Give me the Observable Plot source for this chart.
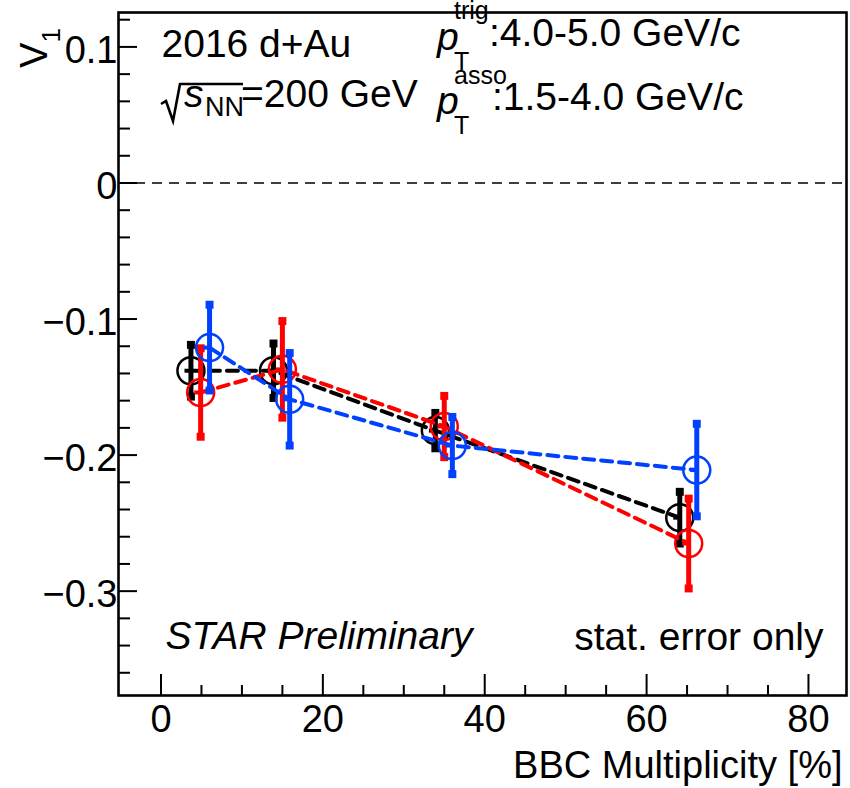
<!DOCTYPE html>
<html>
<head>
<meta charset="utf-8">
<script src="https://cdn.jsdelivr.net/npm/d3@7"></script>
<script src="https://cdn.jsdelivr.net/npm/@observablehq/plot@0.6"></script>
<style>
  html, body { margin: 0; padding: 0; background: white; }
  #chart { width: 850px; height: 788px; }
</style>
</head>
<body>
<div id="chart"></div>
<script>
// ---- data ----
const seriesNames = ["black", "red", "blue"];
const seriesColors = ["#000000", "#ff0000", "#0040ff"];

const xBlack = [3.7, 13.9, 33.9, 64.1];
const yBlack = [-0.138, -0.138, -0.182, -0.246];
const eBlack = [0.019, 0.020, 0.013, 0.019];

const xRed = [4.9, 15.0, 35.0, 65.2];
const yRed = [-0.154, -0.137, -0.179, -0.265];
const eRed = [0.0325, 0.0355, 0.0225, 0.033];

const xBlue = [6.0, 15.9, 36.0, 66.2];
const yBlue = [-0.121, -0.159, -0.193, -0.211];
const eBlue = [0.0315, 0.034, 0.021, 0.034];

const xMajorTicks = [0, 20, 40, 60, 80];
const xMinorTicks = [5, 10, 15, 25, 30, 35, 45, 50, 55, 65, 70, 75];
const yMajorTicks = [-0.3, -0.2, -0.1, 0, 0.1];
const yMinorTicks = [-0.36, -0.34, -0.32, -0.28, -0.26, -0.24, -0.22, -0.18, -0.16, -0.14, -0.12,
                     -0.08, -0.06, -0.04, -0.02, 0.02, 0.04, 0.06, 0.08, 0.12];

const xLabel = "BBC Multiplicity [%]";

// ---- build table ----
function mk(name, xs, ys, es) {
  return xs.map((x, i) => ({series: name, x, y: ys[i], err: es[i]}));
}
const groups = [
  mk("black", xBlack, yBlack, eBlack),
  mk("red", xRed, yRed, eRed),
  mk("blue", xBlue, yBlue, eBlue)
];

const W = 850, H = 788;
const mL = 118, mR = 4, mT = 12, mB = 93;
const fw = W - mL - mR, fh = H - mT - mB;

const seriesMarks = [];
groups.forEach((data, gi) => {
  const c = seriesColors[gi];
  seriesMarks.push(
    Plot.line(data, {x: "x", y: "y", stroke: c, strokeWidth: 4, strokeDasharray: "11,7"}),
    Plot.ruleX(data, {x: "x", y1: d => d.y - d.err, y2: d => d.y + d.err, stroke: c, strokeWidth: 5}),
    Plot.dot(data, {x: "x", y: d => d.y + d.err, symbol: "square", r: 4.5, fill: c, stroke: null}),
    Plot.dot(data, {x: "x", y: d => d.y - d.err, symbol: "square", r: 4.5, fill: c, stroke: null}),
    Plot.link(data, {x1: d => d.x - 0.8, x2: "x", y1: "y", y2: "y", stroke: c, strokeWidth: 4}),
    Plot.dot(data, {x: "x", y: "y", r: 13.5, stroke: c, strokeWidth: 2.5, fill: "none"})
  );
});

const fmtY = d => d === 0 ? "0" : (d < 0 ? "\u2212" : "") + Math.abs(d).toFixed(1);

const chart = Plot.plot({
  width: W,
  height: H,
  marginLeft: mL,
  marginRight: mR,
  marginTop: mT,
  marginBottom: mB,
  style: {fontFamily: "'Liberation Sans', Arial, sans-serif", fontSize: "38px", background: "white", color: "black"},
  x: {domain: [-5.25, 84.7], axis: null},
  y: {domain: [-0.3767, 0.1253], axis: null},
  marks: [
    Plot.ruleY([0], {stroke: "black", strokeWidth: 1.5, strokeDasharray: "10,7"}),
    ...seriesMarks,
    // inward ticks
    Plot.tickY(yMajorTicks, {y: d => d, insetRight: fw - 19, stroke: "black", strokeWidth: 2}),
    Plot.tickY(yMinorTicks, {y: d => d, insetRight: fw - 12, stroke: "black", strokeWidth: 2}),
    Plot.tickX(xMajorTicks, {x: d => d, insetTop: fh - 21, stroke: "black", strokeWidth: 2}),
    Plot.tickX(xMinorTicks, {x: d => d, insetTop: fh - 10, stroke: "black", strokeWidth: 2}),
    Plot.axisX({ticks: xMajorTicks, tickSize: 0, tickPadding: 10, label: null, tickFormat: d => String(d)}),
    Plot.axisY({ticks: yMajorTicks, tickSize: 0, tickPadding: 1, dy: 4, label: null, tickFormat: fmtY}),
    Plot.frame({stroke: "black", strokeWidth: 2.6}),
    Plot.text([xLabel], {frameAnchor: "bottom-right", text: d => d, textAnchor: "end", lineAnchor: "bottom", dx: -4, dy: 82, fill: "black"}),
    Plot.text(["STAR Preliminary"], {frameAnchor: "bottom-left", text: d => d, textAnchor: "start", lineAnchor: "bottom", dx: 47, dy: -47, fontStyle: "italic", fontSize: 39, fill: "black"}),
    Plot.text(["stat. error only"], {frameAnchor: "bottom-right", text: d => d, textAnchor: "end", lineAnchor: "bottom", dx: -23, dy: -46, fontSize: 39, fill: "black"}),
    Plot.text(["2016 d+Au"], {frameAnchor: "top-left", text: d => d, textAnchor: "start", lineAnchor: "bottom", dx: 43, dy: 44, fontSize: 39, fill: "black"})
  ]
});

document.getElementById("chart").appendChild(chart);

// ---- rich-text annotations (sub/superscripts) ----
const svg = d3.select(chart);
const ann = svg.append("g")
  .attr("font-family", "'Liberation Sans', Arial, sans-serif")
  .attr("fill", "black");

function t(x, y, s, size, italic, anchor) {
  ann.append("text")
    .attr("x", x).attr("y", y)
    .attr("font-size", size)
    .attr("font-style", italic ? "italic" : "normal")
    .attr("text-anchor", anchor || "start")
    .text(s);
}

// sqrt(s_NN)=200 GeV
ann.append("path")
  .attr("d", "M161,104 L166,101 L173,121 L180,84 H243")
  .attr("fill", "none").attr("stroke", "black").attr("stroke-width", 2.6)
  .attr("stroke-linejoin", "miter");
t(184, 107, "s", 39, true);
t(205, 116, "NN", 27, false);
t(241, 107, "=200 GeV", 39, false);

// pT trig
t(437, 50, "p", 39, true);
t(454, 70, "T", 25, false);
t(454, 19, "trig", 25, false);
t(489, 46, ":4.0-5.0 GeV/c", 39, false);

// pT asso
t(437, 114, "p", 39, true);
t(454, 134, "T", 25, false);
t(454, 84, "asso", 25, false);
t(492, 110, ":1.5-4.0 GeV/c", 39, false);

// y-axis title V_1 (rotated)
const yt = ann.append("text")
  .attr("transform", "translate(47,48) rotate(-90)")
  .attr("font-size", 38);
yt.append("tspan").text("V");
yt.append("tspan").attr("font-size", 26).attr("dy", 13).text("1");
</script>
</body>
</html>
